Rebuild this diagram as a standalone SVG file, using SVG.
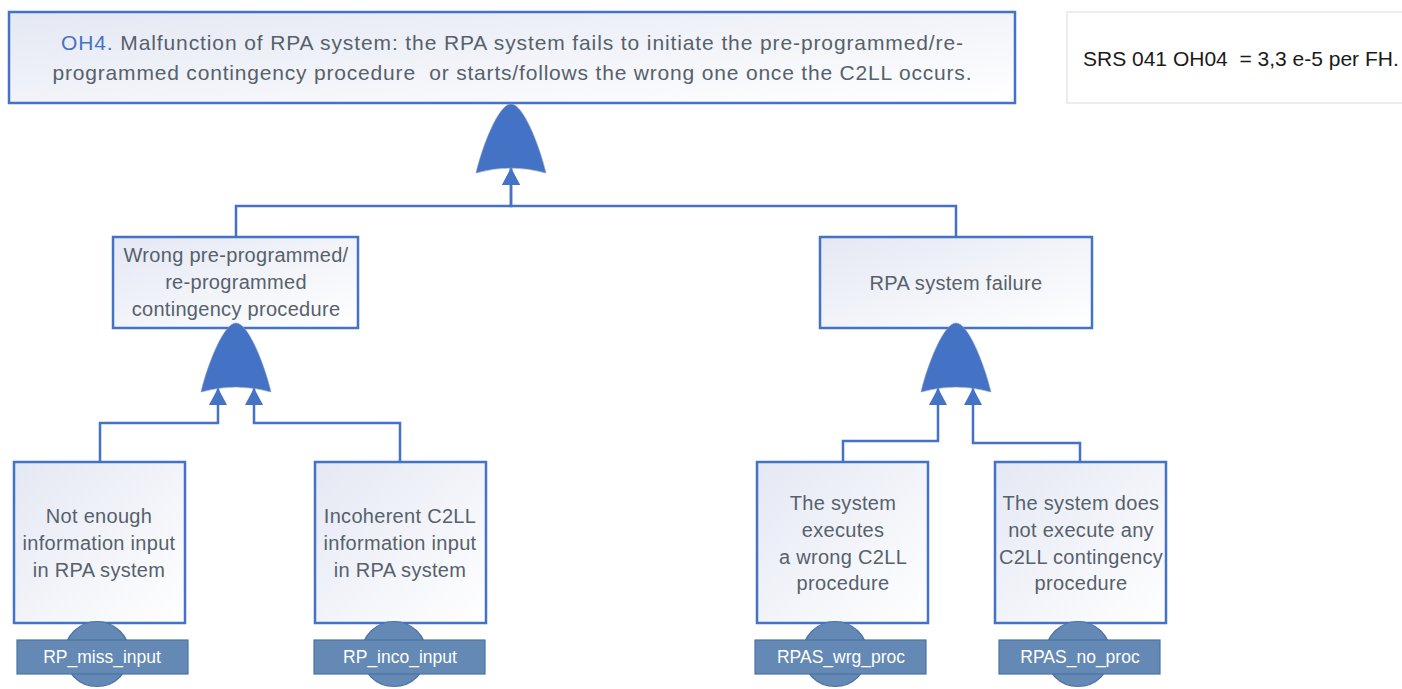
<svg xmlns="http://www.w3.org/2000/svg" width="1402" height="689" viewBox="0 0 1402 689">
<defs>
<linearGradient id="bg" x1="0" y1="0" x2="1" y2="1">
<stop offset="0" stop-color="#e4e8f3"/>
<stop offset="1" stop-color="#ffffff"/>
</linearGradient>
<marker id="arr" markerUnits="userSpaceOnUse" markerWidth="18" markerHeight="18" viewBox="0 0 18 18" refX="17" refY="9" orient="auto">
<path d="M0,0 L17,9 L0,18 Z" fill="#4472c4"/>
</marker>
<path id="gate" d="M0,0 C12,0 28,40 35,69 Q0,59 -35,69 C-28,40 -12,0 0,0 Z"/>
</defs>
<style>
.box{fill:url(#bg);stroke:#4472c4;stroke-width:2.5}
.t{font-family:"Liberation Sans",Arial,sans-serif;font-size:20px;fill:#56616c;text-anchor:middle;letter-spacing:0.3px}
.tt{font-family:"Liberation Sans",Arial,sans-serif;font-size:21px;fill:#56616c;text-anchor:middle}
.g{fill:#4472c4;stroke:#8a9bb8;stroke-width:0.6}
.c{fill:none;stroke:#4472c4;stroke-width:2.5;marker-end:url(#arr)}
.ev{fill:#6389b4;stroke:#4a74a6;stroke-width:1.2}
.lt{font-family:"Liberation Sans",Arial,sans-serif;font-size:17.5px;fill:#ffffff;text-anchor:middle}
</style>
<rect width="1402" height="689" fill="#ffffff"/>

<g id="connectors">
<path class="c" d="M236,237 V206 H511 V168"/>
<path class="c" d="M956,237 V206 H511 V168"/>
<path class="c" d="M100,462 V423 H218 V388"/>
<path class="c" d="M400,462 V423 H254 V388"/>
<path class="c" d="M843,462 V441 H938 V388"/>
<path class="c" d="M1080,462 V443 H973 V388"/>
</g>

<g id="top">
<rect class="box" x="9" y="12" width="1006" height="91"/>
<text class="tt" x="512" y="50" textLength="902"><tspan fill="#4472c4">OH4.</tspan> Malfunction of RPA system: the RPA system fails to initiate the pre-programmed/re-</text>
<text class="tt" x="512" y="80" textLength="919" xml:space="preserve">programmed contingency procedure  or starts/follows the wrong one once the C2LL occurs.</text>
</g>

<g id="srs">
<rect x="1067" y="12" width="340" height="91" fill="#ffffff" stroke="#e3e6f1" stroke-width="1.5"/>
<text x="1083" y="66" font-family="Liberation Sans, Arial, sans-serif" font-size="21" fill="#1a1a1a" xml:space="preserve">SRS 041 OH04  = 3,3 e-5 per FH.</text>
</g>

<g id="gate-top">
<use href="#gate" class="g" x="511" y="104"/>
</g>

<g id="wrong-proc">
<rect class="box" x="113" y="237" width="245" height="91"/>
<text class="t" x="236" y="262">Wrong pre-programmed/</text>
<text class="t" x="236" y="289">re-programmed</text>
<text class="t" x="236" y="316">contingency procedure</text>
</g>

<g id="rpa-failure">
<rect class="box" x="820" y="237" width="272" height="91"/>
<text class="t" x="956" y="290">RPA system failure</text>
</g>

<g id="gate-left">
<use href="#gate" class="g" x="236" y="323"/>
</g>
<g id="gate-right">
<use href="#gate" class="g" x="956" y="323"/>
</g>

<g id="not-enough">
<rect class="box" x="14" y="462" width="171" height="161"/>
<text class="t" x="99" y="523">Not enough</text>
<text class="t" x="99" y="550">information input</text>
<text class="t" x="99" y="577">in RPA system</text>
<circle class="ev" cx="97" cy="654" r="32.5"/>
<rect class="ev" x="17" y="640" width="171" height="34"/>
<text class="lt" x="102" y="663">RP_miss_input</text>
</g>

<g id="incoherent">
<rect class="box" x="315" y="462" width="171" height="161"/>
<text class="t" x="400" y="523">Incoherent C2LL</text>
<text class="t" x="400" y="550">information input</text>
<text class="t" x="400" y="577">in RPA system</text>
<circle class="ev" cx="394" cy="654" r="32.5"/>
<rect class="ev" x="314" y="640" width="171" height="34"/>
<text class="lt" x="400" y="663">RP_inco_input</text>
</g>

<g id="wrong-exec">
<rect class="box" x="757" y="462" width="171" height="161"/>
<text class="t" x="843" y="510">The system</text>
<text class="t" x="843" y="537">executes</text>
<text class="t" x="843" y="564">a wrong C2LL</text>
<text class="t" x="843" y="590">procedure</text>
<circle class="ev" cx="835" cy="654" r="32.5"/>
<rect class="ev" x="755" y="640" width="171" height="34"/>
<text class="lt" x="841" y="663">RPAS_wrg_proc</text>
</g>

<g id="no-exec">
<rect class="box" x="995" y="462" width="171" height="161"/>
<text class="t" x="1081" y="510">The system does</text>
<text class="t" x="1081" y="537">not execute any</text>
<text class="t" x="1081" y="564">C2LL contingency</text>
<text class="t" x="1081" y="590">procedure</text>
<circle class="ev" cx="1078" cy="654" r="32.5"/>
<rect class="ev" x="999" y="640" width="161" height="34"/>
<text class="lt" x="1080" y="663">RPAS_no_proc</text>
</g>
</svg>
